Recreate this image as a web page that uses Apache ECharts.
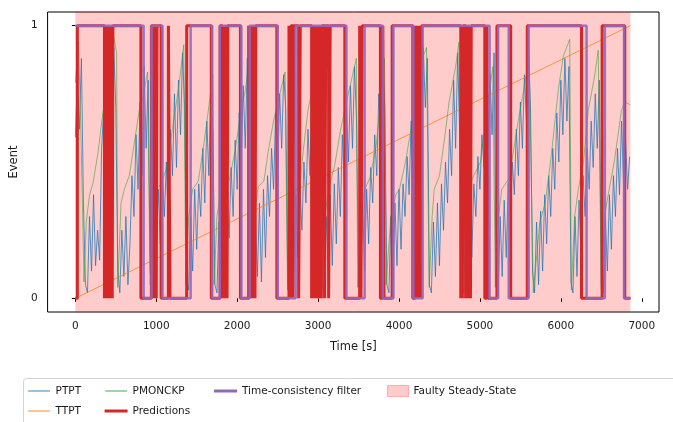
<!DOCTYPE html>
<html><head><meta charset="utf-8">
<script src="https://cdn.jsdelivr.net/npm/echarts@6/dist/echarts.min.js"></script>
<style>html,body{margin:0;padding:0;background:#fff}#c{width:673px;height:422px}</style>
</head><body><div id="c"></div><script>
const xTicks = [0, 1000, 2000, 3000, 4000, 5000, 6000, 7000];
const yTicks = [0, 1];
const endTime = 6860;
const faultySpan = [0, 6860];

// PTPT sampled every ptptStep seconds
const ptptStep = 25;
const ptpt = [
0.59,0.80,0.62,0.88,0.35,0.05,0.02,0.30,0.10,0.38,0.12,0.25,0.14,0.55,0.69,0.42,0.62,0.35,0.80,0.92,0.70,
0.10,0.02,0.25,0.08,0.30,0.05,0.20,0.45,0.30,0.60,0.40,0.72,0.45,0.85,0.55,0.80,
0.10,0.02,0.32,0.15,0.40,0.20,0.45,0.30,0.50,0.25,0.62,0.45,0.75,0.48,0.80,0.60,0.90,0.70,
0.08,0.03,0.30,0.10,0.40,0.18,0.42,0.30,0.55,0.35,0.65,0.45,0.78,0.60,
0.05,0.02,0.28,0.08,0.35,0.12,0.40,0.22,0.48,0.30,0.58,0.40,0.68,0.50,0.78,0.55,0.88,0.65,
0.05,0.02,0.30,0.08,0.35,0.06,0.40,0.15,0.45,0.30,0.55,0.40,0.68,0.45,0.75,0.55,0.82,0.70,
0.06,0.02,0.28,0.10,0.38,0.15,0.42,0.25,0.50,0.35,0.62,0.45,0.72,0.52,0.80,0.62,0.90,
0.05,0.02,0.30,0.10,0.38,0.12,0.42,0.20,0.48,0.30,0.60,0.40,0.70,0.50,0.78,0.55,0.85,0.65,
0.05,0.02,0.35,0.10,0.40,0.20,0.48,0.35,0.60,0.45,0.75,0.55,0.85,0.70,
0.05,0.02,0.30,0.08,0.35,0.12,0.40,0.18,0.42,0.30,0.52,0.38,0.65,0.45,0.75,0.55,0.85,0.62,0.92,0.70,0.88,
0.05,0.02,0.28,0.08,0.35,0.12,0.42,0.25,0.50,0.35,0.62,0.45,0.80,0.55,0.90,0.60,
0.05,0.02,0.32,0.08,0.38,0.15,0.42,0.30,0.52,0.40,0.60,0.48,0.70,0.55,0.82,0.60,0.90,
0.05,0.02,0.30,0.08,0.36,0.15,0.42,0.28,0.50,0.38,0.62,0.45,0.72,0.55,0.82,0.65,0.92,0.70,
0.10,0.02,0.28,0.05,0.32,0.10,0.38,0.20,0.45,0.30,0.55,0.40,0.68,0.50,0.80,0.60,0.88,0.65,0.85,
0.06,0.02,0.30,0.08,0.36,0.15,0.45,0.30,0.55,0.40,0.65,0.48,0.75,0.55,0.80,
0.05,0.02,0.30,0.10,0.38,0.18,0.45,0.30,0.55,0.38,0.65,0.42,0.58,0.40,0.52
];

// TTPT [time, value]
const ttpt = [[0, 0], [6860, 1]];

// PMONCKP [time, value]
const pmonckp = [
[0,0.79],[40,0.94],[75,0.53],[107,0.06],[135,0.28],[176,0.38],[217,0.42],[278,0.53],[340,0.68],[381,0.75],[463,0.98],[510,0.9],
[524,0.04],[565,0.35],[606,0.40],[667,0.45],[729,0.57],[790,0.69],[831,0.73],[893,0.83],[905,0.5],
[925,0.05],[960,0.3],[1000,0.40],[1060,0.42],[1120,0.47],[1200,0.62],[1280,0.78],[1340,0.93],
[1365,0.05],[1400,0.3],[1450,0.40],[1520,0.43],[1580,0.55],[1640,0.68],[1700,0.82],
[1715,0.05],[1750,0.3],[1800,0.40],[1900,0.43],[1980,0.55],[2050,0.70],[2100,0.76],[2140,0.85],
[2170,0.05],[2210,0.3],[2260,0.41],[2330,0.43],[2390,0.55],[2449,0.65],[2535,0.76],[2592,0.83],
[2623,0.03],[2650,0.3],[2700,0.38],[2776,0.42],[2820,0.55],[2875,0.69],[2950,0.80],[3022,0.91],
[3040,0.05],[3080,0.3],[3145,0.42],[3200,0.48],[3280,0.62],[3366,0.74],[3473,0.88],
[3490,0.04],[3530,0.3],[3575,0.40],[3640,0.44],[3718,0.56],[3770,0.72],[3821,0.88],
[3840,0.05],[3900,0.3],[3960,0.38],[4005,0.40],[4080,0.5],[4165,0.65],[4230,0.8],[4290,0.88],[4340,0.92],
[4373,0.04],[4410,0.3],[4435,0.40],[4500,0.45],[4560,0.58],[4619,0.72],[4700,0.85],[4742,0.94],
[4760,0.04],[4830,0.35],[4906,0.44],[5008,0.50],[5086,0.69],[5160,0.85],
[5190,0.04],[5230,0.3],[5270,0.40],[5360,0.44],[5420,0.55],[5479,0.66],[5581,0.83],[5602,0.98],
[5660,0.02],[5740,0.28],[5807,0.35],[5880,0.52],[5971,0.77],[6032,0.89],[6110,0.95],
[6130,0.03],[6170,0.3],[6216,0.40],[6280,0.5],[6339,0.69],[6420,0.82],[6462,0.91],
[6500,0.03],[6540,0.3],[6585,0.38],[6660,0.5],[6749,0.69],[6790,0.72],[6860,0.71]
];

// Predictions: start value and toggle times
const predStart = 0;
const predToggles = [
25,
360,368,376,384,392,400,408,416,424,432,440,448,456,464,
810,
940,965,975,1000,1010,1060,
1150,1170,
1376,
1680,
1790,1815,1825,1835,1845,1855,1865,1875,1885,
2040,
2142,2160,2170,2180,2190,2200,2210,2220,2230,
2490,
2640,2655,2665,2690,2700,
2760,2780,
2920,2930,2940,2950,2960,2970,2980,2990,3000,3010,3020,3030,3040,3050,
3080,3095,3130,3150,
3330,
3514,3530,3545,
3770,3800,3815,3915,
4170,
4200,4215,4225,4240,4250,4270,4280,
4763,4773,4783,4793,4823,4833,4843,4853,4863,4873,4883,4893,
5060,5085,5100,
5210,
5380,
5585,
6255,
6510,
6790
];

// Time-consistency filter: start value and toggle times
const filterStart = 1;
const filterToggles = [844,942,1077,1425,1691,1785,2052,2154,2502,2723,3350,3575,3800,3931,4177,4292,5119,5225,5356,5602,6318,6544,6781];

function stepData(start, toggles, end) {
  const d = [[0, start]]; let v = start;
  for (const t of toggles) { d.push([t, v]); v = 1 - v; d.push([t, v]); }
  d.push([end, v]);
  return d;
}

const FONT = 'DejaVu Sans';
const chart = echarts.init(document.getElementById('c'), null, {renderer: 'canvas'});

const legendBase = {
  orient: 'vertical', top: 381, itemGap: 0, itemWidth: 23, itemHeight: 3, icon: 'rect',
  padding: 0, selectedMode: false,
  textStyle: {fontFamily: FONT, fontSize: 10.5, color: '#1a1a1a', lineHeight: 20}
};

const option = {
  animation: false,
  backgroundColor: '#fff',
  graphic: [{
    type: 'rect', z: 0, left: 23, top: 378,
    shape: {width: 720, height: 60, r: 3},
    style: {fill: '#fff', stroke: '#d4d4d4', lineWidth: 1}
  }],
  grid: {left: 47, right: 14, top: 12, bottom: 110, show: true, borderColor: '#000', borderWidth: 1, backgroundColor: 'transparent'},
  xAxis: {
    type: 'value', min: -343, max: 7213,
    name: 'Time [s]', nameLocation: 'middle', nameGap: 29,
    nameTextStyle: {fontFamily: FONT, fontSize: 11.5, color: '#1a1a1a'},
    axisLine: {show: false},
    axisTick: {show: true, length: 3.5, inside: false, lineStyle: {color: '#000'}, customValues: xTicks},
    axisLabel: {fontFamily: FONT, fontSize: 10.5, color: '#1a1a1a', margin: 9, customValues: xTicks,
      formatter: v => String(v)},
    splitLine: {show: false}
  },
  yAxis: {
    type: 'value', min: -0.05, max: 1.05,
    name: 'Event', nameLocation: 'middle', nameGap: 27,
    nameTextStyle: {fontFamily: FONT, fontSize: 11.5, color: '#1a1a1a'},
    axisLine: {show: false},
    axisTick: {show: true, length: 3.5, lineStyle: {color: '#000'}, customValues: yTicks},
    axisLabel: {fontFamily: FONT, fontSize: 10.5, color: '#1a1a1a', margin: 10, customValues: yTicks,
      formatter: v => String(v)},
    splitLine: {show: false}
  },
  legend: [
    Object.assign({}, legendBase, {left: 27, data: [
      {name: 'PTPT', itemStyle: {color: 'rgba(31,119,180,0.45)', borderColor: '#fff', borderWidth: 1.2}},
      {name: 'TTPT', itemStyle: {color: 'rgba(255,127,14,0.45)', borderColor: '#fff', borderWidth: 1.2}}
    ]}),
    Object.assign({}, legendBase, {left: 104, data: [
      {name: 'PMONCKP', itemStyle: {color: 'rgba(44,160,44,0.45)', borderColor: '#fff', borderWidth: 1.2}},
      {name: 'Predictions', itemStyle: {color: '#d62728', borderWidth: 0}}
    ]}),
    Object.assign({}, legendBase, {left: 214, data: [
      {name: 'Time-consistency filter', itemStyle: {color: '#9467bd', borderWidth: 0}}
    ]}),
    Object.assign({}, legendBase, {left: 387, itemWidth: 21, itemHeight: 11, data: [
      {name: 'Faulty Steady-State', itemStyle: {color: 'rgba(255,0,0,0.2)', borderColor: 'rgba(255,0,0,0.25)', borderWidth: 1}}
    ]})
  ],
  series: [
    {name: 'Faulty Steady-State', type: 'line', z: 1, symbol: 'none', data: [],
     itemStyle: {color: 'rgba(255,0,0,0.2)'},
     markArea: {silent: true, z: 1, itemStyle: {color: 'rgba(255,0,0,0.2)'},
       data: [[{xAxis: faultySpan[0]}, {xAxis: faultySpan[1]}]]}},
    {name: 'PTPT', type: 'line', z: 2, symbol: 'none', showSymbol: false,
     data: ptpt.map((v, i) => [i * ptptStep, v]),
     lineStyle: {color: '#1f77b4', width: 1, opacity: 0.75}, itemStyle: {color: '#1f77b4'}},
    {name: 'TTPT', type: 'line', z: 3, symbol: 'none', showSymbol: false, data: ttpt,
     lineStyle: {color: '#ff7f0e', width: 1, opacity: 0.75}, itemStyle: {color: '#ff7f0e'}},
    {name: 'PMONCKP', type: 'line', z: 4, symbol: 'none', showSymbol: false, data: pmonckp,
     lineStyle: {color: '#2ca02c', width: 0.8, opacity: 0.7}, itemStyle: {color: '#2ca02c'}},
    {name: 'Predictions', type: 'line', z: 5, symbol: 'none', showSymbol: false,
     data: stepData(predStart, predToggles, endTime),
     lineStyle: {color: '#d62728', width: 3}, itemStyle: {color: '#d62728'}},
    {name: 'Time-consistency filter', type: 'line', z: 6, symbol: 'none', showSymbol: false,
     data: stepData(filterStart, filterToggles, endTime),
     lineStyle: {color: '#9467bd', width: 2.5, opacity: 0.9}, itemStyle: {color: '#9467bd'}}
  ]
};
chart.setOption(option);
</script></body></html>
